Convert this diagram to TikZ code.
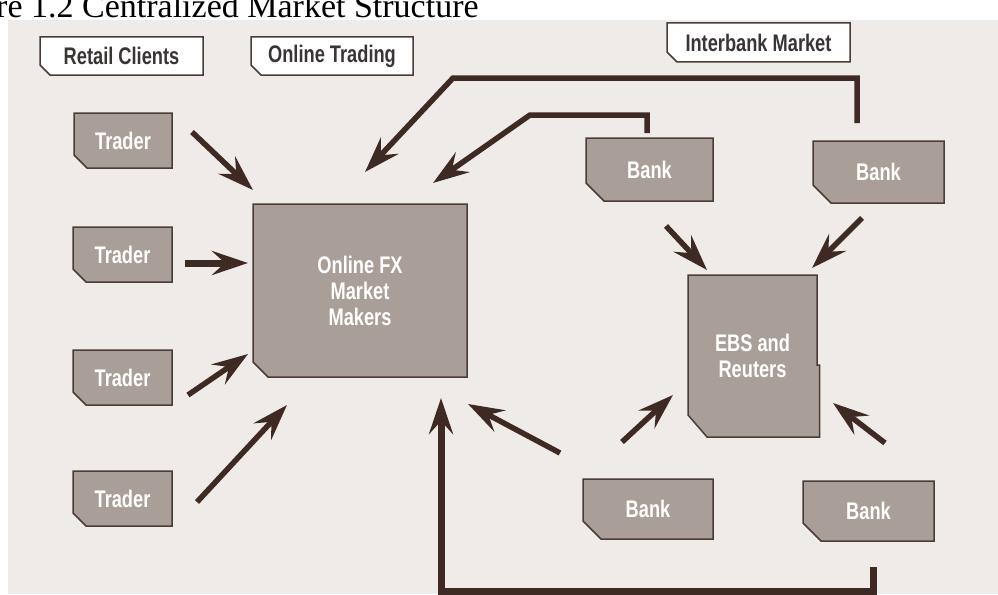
\documentclass[tikz,border=0pt]{standalone}
\usepackage{fontspec}
\setmainfont{Liberation Serif}
\newfontfamily\cond{Liberation Sans}[FakeStretch=0.76]
\usetikzlibrary{arrows.meta,backgrounds}
\definecolor{panel}{HTML}{EEEBE8}
\definecolor{boxfill}{HTML}{A99E98}
\definecolor{boxline}{HTML}{4A3D38}
\definecolor{arrowc}{HTML}{3E2A22}
\definecolor{labeltext}{HTML}{3A3434}
\tikzset{
  box/.style={rectangle, inner sep=0pt, outer sep=0pt, align=center, text=white,
    font=\cond\bfseries\fontsize{24}{26}\selectfont},
  labelbox/.style={rectangle, inner sep=0pt, outer sep=0pt, text=labeltext,
    font=\cond\bfseries\fontsize{24}{26}\selectfont},
  shapefill/.style={fill=boxfill, draw=boxline, line width=1.5pt},
  labelfill/.style={fill=white, draw=boxline, line width=1.5pt},
  arr/.style={draw=arrowc, line width=5.5pt, -{Stealth[length=36pt,width=24pt,inset=13pt]}},
  link/.style={draw=arrowc, line width=5pt},
}
\newcommand\cutbox[3]{\path[#1] (#2.north west) -- (#2.north east) -- (#2.south east)
  -- ([xshift=#3]#2.south west) -- ([yshift=#3]#2.south west) -- cycle;}
\begin{document}
\begin{tikzpicture}[x=1pt,y=-1pt]
\useasboundingbox (0,0) rectangle (998,594);
\clip (0,0) rectangle (998,594);
\begin{scope}[on background layer]
  \fill[panel] (8,20) rectangle (998,594);
\end{scope}
\node[anchor=base west, inner sep=0pt, font=\fontsize{34}{34}\selectfont] (title) at (-4,18) {re 1.2 Centralized Market Structure};

% labels
\node[labelbox, minimum width=163pt, minimum height=38pt] (retail) at (121.5,56) {Retail Clients};
\node[labelbox, minimum width=162pt, minimum height=38pt] (online) at (332,56) {Online Trading};
\node[labelbox, minimum width=183pt, minimum height=39pt] (inter) at (758.5,42.5) {Interbank Market};

% traders
\node[box, minimum width=98pt, minimum height=55pt] (t1) at (123,140.5) {Trader};
\node[box, minimum width=99pt, minimum height=55pt] (t2) at (122.5,254.5) {Trader};
\node[box, minimum width=99pt, minimum height=55pt] (t3) at (122.5,377.5) {Trader};
\node[box, minimum width=99pt, minimum height=55pt] (t4) at (122.5,498.5) {Trader};

% market makers
\node[box, minimum width=214pt, minimum height=173pt] (fx) at (360,290.5) {Online FX\\Market\\Makers};

% banks
\node[box, minimum width=127pt, minimum height=63pt] (b1) at (649.5,169.5) {Bank};
\node[box, minimum width=131pt, minimum height=62pt] (b2) at (878.5,172) {Bank};
\node[box, minimum width=130pt, minimum height=60pt] (b3) at (648,509) {Bank};
\node[box, minimum width=131pt, minimum height=60pt] (b4) at (868.5,511) {Bank};

% EBS
\node[box, minimum width=129pt, minimum height=162pt] (ebs) at (752.5,356) {EBS and\\Reuters};

\begin{scope}[on background layer]
  \cutbox{labelfill}{retail}{10pt}
  \cutbox{labelfill}{online}{10pt}
  \cutbox{labelfill}{inter}{10pt}
  \cutbox{shapefill}{t1}{13pt}
  \cutbox{shapefill}{t2}{13pt}
  \cutbox{shapefill}{t3}{13pt}
  \cutbox{shapefill}{t4}{13pt}
  \cutbox{shapefill}{fx}{15pt}
  \cutbox{shapefill}{b1}{18pt}
  \cutbox{shapefill}{b2}{18pt}
  \cutbox{shapefill}{b3}{18pt}
  \cutbox{shapefill}{b4}{18pt}
  \path[shapefill] (ebs.north west) -- (ebs.north east) -- ([yshift=-90pt]ebs.north east)
    -- ([xshift=2.7pt,yshift=-90pt]ebs.north east) -- ([xshift=2.7pt]ebs.south east)
    -- ([xshift=19pt]ebs.south west) -- ([yshift=22pt]ebs.south west) -- cycle;
\end{scope}

% traders to market makers
\draw[arr] ([shift={(20,-8.5)}]t1.east) -- ([shift={(0,-14)}]fx.north west);
\draw[arr, line width=7pt] ([shift={(13,8.5)}]t2.east) -- ([shift={(-5,-27.5)}]fx.west);
\draw[arr] ([shift={(16,17.5)}]t3.east) -- ([shift={(-5,-23)}]fx.south west);
\draw[arr] ([shift={(25,3.5)}]t4.east) -- ([shift={(34,28)}]fx.south west);

% banks to market makers
\draw[arr, line width=7pt] ([shift={(4.5,26)}]b4.south) -- ++(0,24) -| ([shift={(81,21)}]fx.south);
\draw[arr] ([shift={(-23,-26)}]b3.north west) -- ([shift={(1,27)}]fx.south east);
\draw[arr] ([shift={(-2.5,-5)}]b1.north) -- ++(0,-18) -- ++(-117,0) -- ([shift={(-34,-21)}]fx.north east);
\draw[arr] ([shift={(-21.5,-18)}]b2.north) -- ++(0,-45) -- ++(-404,0) -- ([shift={(5,-32)}]fx.north);

% banks to EBS
\draw[arr] ([shift={(16.5,25)}]b1.south) -- ([shift={(19,-5)}]ebs.north west);
\draw[arr] ([shift={(-16.5,15)}]b2.south) -- ([shift={(-5,-7)}]ebs.north east);
\draw[arr] ([shift={(-26,-37)}]b3.north) -- ([shift={(-15,39)}]ebs.west);
\draw[arr] ([shift={(16.5,-38)}]b4.north) -- ([shift={(16,47)}]ebs.east);
\end{tikzpicture}
\end{document}
